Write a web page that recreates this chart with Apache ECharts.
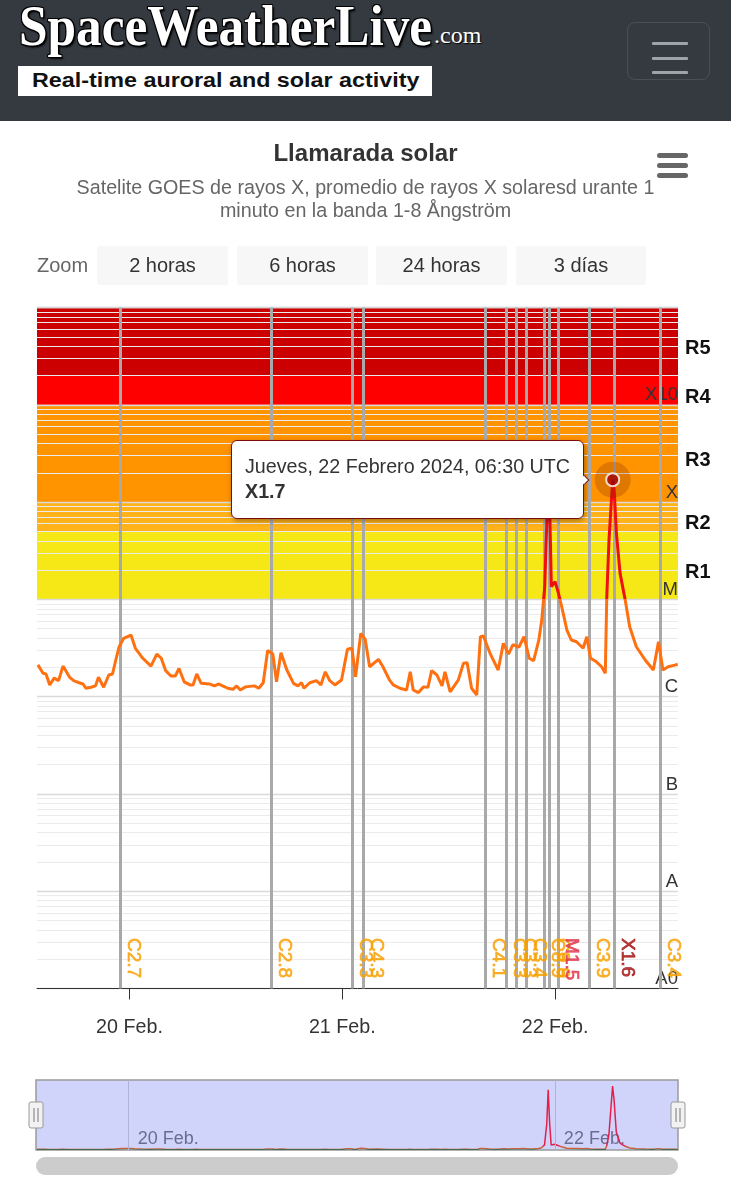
<!DOCTYPE html>
<html>
<head>
<meta charset="utf-8">
<script src="https://cdn.jsdelivr.net/npm/echarts@6/dist/echarts.min.js"></script>
<style>
html,body{margin:0;padding:0;background:#fff;width:731px;height:1200px;overflow:hidden;font-family:"Liberation Sans",Arial,sans-serif;}
#chart{position:absolute;left:0;top:0;width:731px;height:1200px;}
#hdr{position:absolute;left:0;top:0;width:731px;height:121px;background:#343a40;z-index:5;}
#logo{position:absolute;left:19px;top:-6px;font-family:"Liberation Serif","DejaVu Serif",serif;font-weight:bold;font-size:56px;color:#fff;white-space:nowrap;transform-origin:0 0;
 text-shadow:1px 1px 0 #000,-1px 1px 0 #000,1px -1px 0 #000,-1px -1px 0 #000,2px 2px 2px #000;}
#dotcom{position:absolute;left:434px;top:22px;font-family:"Liberation Serif",serif;font-size:24px;color:#fff;text-shadow:1px 1px 1px #000;}
#tag{position:absolute;left:18px;top:66px;width:414px;height:30px;background:#fff;}
#tagtxt{position:absolute;left:14px;top:3px;font-weight:bold;font-size:20px;color:#111;white-space:nowrap;transform-origin:0 0;}
#menu{position:absolute;left:627px;top:22px;width:83px;height:58px;border:1px solid #4b5057;border-radius:8px;box-sizing:border-box;}
#menu i{position:absolute;left:24px;width:36px;height:3px;background:#a0a3a7;border-radius:1px;}
</style>
</head>
<body>
<div id="chart"></div>
<div id="hdr">
  <div id="logo">SpaceWeatherLive</div>
  <div id="dotcom">.com</div>
  <div id="tag"><div id="tagtxt">Real-time auroral and solar activity</div></div>
  <div id="menu"><i style="top:19px"></i><i style="top:34px"></i><i style="top:48px"></i></div>
</div>
<script>
// ---------------- DATA ----------------
// GOES 1-8 Å flux (W/m²), times in UTC (February 2024, "DDTHH:mm")
const times = [
 '19T13:40','19T14:15','19T14:35','19T15:00','19T15:30','19T16:00','19T16:30','19T17:15','19T17:45','19T18:20',
 '19T18:45','19T19:05','19T19:40','19T20:10','19T20:30','19T21:05','19T21:40','19T22:05','19T22:30','19T22:50',
 '19T23:20','20T00:10','20T00:40','20T01:30','20T02:25','20T03:05','20T03:35','20T04:05','20T04:40','20T05:10',
 '20T05:35','20T06:10','20T06:50','20T07:10','20T07:35','20T08:05','20T09:00','20T09:35','20T10:05','20T10:30',
 '20T11:05','20T11:40','20T12:05','20T12:30','20T13:05','20T14:05','20T14:35','20T15:05','20T15:35','20T16:10',
 '20T16:35','20T17:05','20T17:45','20T18:30','20T19:00','20T19:25','20T19:40','20T20:20','20T21:05','20T21:35',
 '20T22:05','20T22:35','20T23:10','20T23:55','21T00:35','21T01:05','21T01:30','21T02:05','21T02:35','21T03:05',
 '21T04:05','21T04:35','21T05:20','21T05:45','21T06:30','21T07:15','21T07:40','21T08:00','21T08:35','21T09:10',
 '21T09:40','21T10:05','21T10:40','21T11:15','21T11:35','21T12:10','21T13:05','21T13:40','21T14:05','21T14:35',
 '21T15:10','21T15:35','21T15:55','21T16:40','21T17:35','21T18:10','21T18:45','21T19:15','21T19:55','21T20:30',
 '21T21:05','21T21:35','21T22:10','21T22:30','21T22:50','21T23:05','21T23:15','21T23:25','21T23:35','22T00:00',
 '22T00:20','22T00:45','22T01:20','22T01:50','22T02:25','22T03:10','22T03:35','22T04:00','22T04:40','22T05:15',
 '22T05:40','22T05:50','22T06:05','22T06:30','22T06:40','22T06:55','22T07:20','22T07:55','22T08:25','22T09:10',
 '22T10:10','22T11:05','22T11:40','22T12:10','22T12:45','22T13:30','22T13:50'
];
const flux = [
 2.12e-6,1.74e-6,1.71e-6,1.32e-6,1.55e-6,1.46e-6,2.06e-6,1.58e-6,1.45e-6,1.39e-6,
 1.35e-6,1.22e-6,1.25e-6,1.29e-6,1.58e-6,1.25e-6,1.67e-6,1.71e-6,2.48e-6,3.26e-6,
 3.97e-6,4.30e-6,3.14e-6,2.48e-6,2.06e-6,2.74e-6,2.48e-6,1.85e-6,1.63e-6,1.63e-6,
 1.95e-6,1.42e-6,1.32e-6,1.32e-6,1.71e-6,1.37e-6,1.35e-6,1.29e-6,1.35e-6,1.29e-6,
 1.22e-6,1.19e-6,1.29e-6,1.17e-6,1.26e-6,1.29e-6,1.22e-6,1.39e-6,2.98e-6,2.74e-6,
 1.42e-6,2.83e-6,1.88e-6,1.37e-6,1.29e-6,1.39e-6,1.22e-6,1.39e-6,1.46e-6,1.32e-6,
 1.80e-6,1.46e-6,1.32e-6,1.48e-6,3.07e-6,3.14e-6,1.60e-6,4.47e-6,3.88e-6,2.03e-6,
 2.42e-6,2.03e-6,1.48e-6,1.32e-6,1.22e-6,1.17e-6,1.80e-6,1.17e-6,1.10e-6,1.26e-6,
 1.25e-6,1.85e-6,1.67e-6,1.29e-6,1.80e-6,1.12e-6,1.48e-6,2.20e-6,2.23e-6,1.22e-6,
 1.04e-6,4.13e-6,4.20e-6,2.79e-6,1.88e-6,3.53e-6,2.74e-6,3.43e-6,3.22e-6,4.13e-6,
 2.48e-6,2.34e-6,3.81e-6,6.13e-6,1.35e-5,6.85e-5,1.60e-4,6.85e-5,1.35e-5,1.52e-5,
 1.20e-5,8.4e-6,4.84e-6,3.82e-6,3.67e-6,3.14e-6,4.13e-6,2.48e-6,2.28e-6,2.03e-6,
 1.74e-6,1.06e-5,4.07e-5,1.70e-4,1.33e-4,4.80e-5,1.85e-5,9.8e-6,5.23e-6,3.26e-6,
 2.38e-6,1.88e-6,3.67e-6,1.88e-6,2.03e-6,2.11e-6,2.15e-6
];
// flare markers (time, class label)
const flareTimes  = ['19T22:55','20T16:00','21T01:05','21T02:20','21T16:10','21T18:30','21T19:35','21T20:45','21T22:45','21T23:20','22T00:20','22T03:50','22T06:40','22T11:50'];
const flareLabels = ['C2.7','C2.8','C3.3','C4.3','C4.1','C3.3','C3.3','C3.4','C8.9','C9.9','M1.5','C3.9','X1.6','C3.4'];
// radio blackout scale bands (W/m²)
const bandEdges = [1e-5, 5e-5, 1e-4, 1e-3, 2e-3, 1e-2];
const bandNames = ['R1','R2','R3','R4','R5'];
// axis range and navigator grid days
const rangeStart = '19T13:34', rangeEnd = '22T13:52';
const navDays = ['20T00:00','22T00:00'];
const classLetters = {'-9':'A0','-8':'A','-7':'B','-6':'C','-5':'M','-4':'X','-3':'X10'};
const zoomButtons = ['2 horas','6 horas','24 horas','3 días'];
const dayNames = ['Domingo','Lunes','Martes','Miércoles','Jueves','Viernes','Sábado'];
const monthNames = ['Enero','Febrero','Marzo','Abril','Mayo','Junio','Julio','Agosto','Septiembre','Octubre','Noviembre','Diciembre'];

// ---------------- HELPERS ----------------
function toMs(s){ return Date.parse('2024-02-' + s + 'Z'); }
function cls(v){
  const L = [['X',1e-4],['M',1e-5],['C',1e-6],['B',1e-7],['A',1e-8]];
  for (const [l,b] of L) if (v >= b*0.9999) return l + (v/b).toFixed(1);
  return 'A' + (v/1e-8).toFixed(1);
}
function pad(n){ return (n<10?'0':'')+n; }

const FONT = '"Liberation Sans", Arial, sans-serif';
const points = times.map((t,i)=>[toMs(t), flux[i]]);
let peakIdx = 0; flux.forEach((v,i)=>{ if (v > flux[peakIdx]) peakIdx = i; });
const xMin = toMs(rangeStart), xMax = toMs(rangeEnd);
const DAY = 86400000;
const navDayMs = navDays.map(toMs);

const bandColors = ['#f5e816','#ffb21a','#ff9300','#ff0000','#cc0000'];
const bandAreas = bandNames.map((n,i)=>[
  {yAxis: bandEdges[i], name: n, itemStyle:{color: bandColors[i]}},
  {yAxis: bandEdges[i+1]}
]);
const minorSteps = [2,3,4,5,6,7,8,9];
const minorLines = [];
for (let e=-9; e<-2; e++) minorSteps.forEach(m=>{
  const v = m*Math.pow(10,e);
  minorLines.push([{coord:[xMin, v]}, {coord:[xMax, v]}]);
});

function flareColor(l){ return l[0]==='X' ? '#a50f0f' : (l[0]==='M' ? '#e0324c' : '#f7a000'); }
const LABEL_FLUX = 3.3e-9; // label anchor height (near bottom of plot)
const flareLabelData = flareTimes.map((t,i)=>({
  value:[toMs(t), LABEL_FLUX],
  label:{color: flareColor(flareLabels[i]), textBorderColor: flareColor(flareLabels[i]), formatter: flareLabels[i]}
}));

// ---------------- CHART ----------------
const chart = echarts.init(document.getElementById('chart'));
const graphic = [];
graphic.push({type:'text', x:37, y:266, z:10, style:{text:'Zoom', font:'20px '+FONT, fill:'#666', verticalAlign:'middle'}});
const btnX = [97,237,376,516], btnW = [131,131,131,130];
zoomButtons.forEach((b,i)=>{
  graphic.push({type:'rect', z:9, shape:{x:btnX[i], y:246, width:btnW[i], height:39, r:2}, style:{fill:'#f7f7f7'}});
  graphic.push({type:'text', z:10, x:btnX[i]+btnW[i]/2, y:266, style:{text:b, font:'20px '+FONT, fill:'#333', align:'center', verticalAlign:'middle'}});
});
[153,163,173].forEach(y=>graphic.push({type:'rect', z:10, shape:{x:657,y:y,width:31,height:5,r:2.5}, style:{fill:'#666'}}));
// navigator handles and scrollbar
[36,678].forEach(x=>{
  graphic.push({type:'rect', z:20, shape:{x:x-7,y:1102,width:14,height:26,r:2}, style:{fill:'#f2f2f2', stroke:'#999', lineWidth:1}});
  graphic.push({type:'line', z:21, shape:{x1:x-2,y1:1108,x2:x-2,y2:1122}, style:{stroke:'#777', lineWidth:1}});
  graphic.push({type:'line', z:21, shape:{x1:x+2,y1:1108,x2:x+2,y2:1122}, style:{stroke:'#777', lineWidth:1}});
});
graphic.push({type:'rect', z:10, shape:{x:36,y:1157,width:642,height:18,r:9}, style:{fill:'#cccccc'}});

const option = {
  animation:false,
  useUTC:true,
  textStyle:{fontFamily:FONT},
  title:{
    text:'Llamarada solar',
    subtext:'Satelite GOES de rayos X, promedio de rayos X solaresd urante 1\nminuto en la banda 1-8 Ångström',
    left:'center', top:137, itemGap:11,
    textStyle:{fontSize:24, fontWeight:'bold', color:'#333', fontFamily:FONT},
    subtextStyle:{fontSize:19.7, color:'#666', lineHeight:23, fontFamily:FONT}
  },
  graphic: graphic,
  grid:[
    {left:37, top:307.5, width:641, height:681},
    {left:36, top:1080, width:642, height:70, show:true, backgroundColor:'#d0d4fb', borderColor:'#9a9a9a', borderWidth:1.5}
  ],
  xAxis:[
    {type:'time', gridIndex:0, min:xMin, max:xMax, minInterval:DAY, maxInterval:DAY, z:1,
     axisLine:{lineStyle:{color:'#333', width:1}},
     axisTick:{length:11, lineStyle:{color:'#333'}},
     axisLabel:{fontSize:19.7, color:'#333', margin:29, hideOverlap:false,
       formatter:v=>new Date(v).getUTCDate()+' Feb.'},
     splitLine:{show:false}},
    {type:'time', gridIndex:1, min:xMin, max:xMax, minInterval:DAY, maxInterval:DAY,
     axisLine:{show:false}, axisTick:{show:false},
     axisLabel:{inside:true, fontSize:18, color:'#6a6d90', align:'left', margin:2, padding:[0,0,0,9], hideOverlap:false,
       formatter:v=>{ const ms = +v; return navDayMs.some(d=>Math.abs(d-ms)<60000) ? new Date(ms).getUTCDate()+' Feb.' : ''; }},
     splitLine:{show:false}}
  ],
  yAxis:[
    {type:'log', logBase:10, gridIndex:0, min:1e-9, max:1e-2, position:'right', z:1,
     axisLine:{show:false}, axisTick:{show:false},
     axisLabel:{inside:true, margin:0, fontSize:18.5, color:'#333', verticalAlign:'bottom',
       formatter:v=>classLetters[String(Math.round(Math.log10(v)))]||''},
     splitLine:{show:true, lineStyle:{color:'#d9d9d9', width:1.3}}},
    {type:'value', gridIndex:1, min:0, max:1.86e-4, show:false, splitLine:{show:false}}
  ],
  visualMap:[
    {type:'piecewise', show:false, seriesIndex:0, dimension:1,
     pieces:[{gte:1e-12, lt:1e-5, color:'#ff7010'},{gte:1e-5, lte:1, color:'#ee0f0f'}]},
    {type:'piecewise', show:false, seriesIndex:4, dimension:1,
     pieces:[{gte:0, lt:3.9e-6, color:'#46684f'},{gte:3.9e-6, lt:1e-5, color:'#c8603c'},{gte:1e-5, lte:1, color:'#e3204a'}]}
  ],
  tooltip:{
    trigger:'item', showDelay:0, hideDelay:0, transitionDuration:0, alwaysShowContent:true,
    position:'left', confine:false,
    backgroundColor:'#ffffff', borderColor:'#7c0c0c', borderWidth:1.5, padding:[13,13,14,13],
    textStyle:{fontSize:19.7, color:'#333', fontFamily:FONT},
    extraCssText:'border-radius:6px;box-shadow:1px 2px 5px rgba(0,0,0,0.35);',
    formatter:p=>{
      const d = new Date(p.value[0]);
      const s = dayNames[d.getUTCDay()]+', '+d.getUTCDate()+' '+monthNames[d.getUTCMonth()]+' '+d.getUTCFullYear()+', '+pad(d.getUTCHours())+':'+pad(d.getUTCMinutes())+' UTC';
      return '<div style="line-height:25px">'+s+'<br><b>'+cls(p.value[1])+'</b></div>';
    }
  },
  series:[
    {type:'line', name:'flux', xAxisIndex:0, yAxisIndex:0, data:points, showSymbol:false, z:3,
     lineStyle:{width:3}, silent:true, tooltip:{show:false},
     markArea:{silent:true, z:0.5, data:bandAreas,
       label:{show:true, position:'right', distance:7, offset:[0,7], fontSize:20, fontWeight:'bold', color:'#111', fontFamily:FONT}}},
    {type:'scatter', name:'flares', xAxisIndex:0, yAxisIndex:0, data:flareLabelData, z:4, silent:true,
     symbolSize:1, itemStyle:{color:'rgba(0,0,0,0)'}, tooltip:{show:false},
     label:{show:true, position:'inside', rotate:-90, align:'left', verticalAlign:'middle', offset:[0,-13], fontSize:19, fontFamily:FONT, textBorderWidth:0.7},
     markLine:{silent:true, z:2, symbol:'none', label:{show:false},
       lineStyle:{color:'#a9a9a9', width:3, type:'solid'},
       data:flareTimes.map(t=>({xAxis:toMs(t)}))}},
    {type:'scatter', name:'halo', xAxisIndex:0, yAxisIndex:0, z:5, data:[points[peakIdx]],
     symbolSize:36, itemStyle:{color:'rgba(125,35,0,0.3)'}, emphasis:{disabled:true}},
    {type:'scatter', name:'point', xAxisIndex:0, yAxisIndex:0, z:6, data:[points[peakIdx]], silent:true,
     tooltip:{show:false}, symbolSize:13, itemStyle:{color:'#a00000', borderColor:'#fff', borderWidth:2}},
    {type:'line', name:'nav', xAxisIndex:1, yAxisIndex:1, data:points, showSymbol:false, silent:true,
     tooltip:{show:false}, lineStyle:{width:1.5},
     markLine:{silent:true, symbol:'none', label:{show:false}, lineStyle:{color:'#aeb3d6', width:1, type:'solid'},
       data:navDayMs.map(d=>({xAxis:d}))}},
    {type:'line', name:'minorGrid', xAxisIndex:0, yAxisIndex:0, data:[], silent:true, tooltip:{show:false},
     markLine:{silent:true, z:1, symbol:'none', label:{show:false}, animation:false,
       lineStyle:{color:'#ebebeb', width:1, type:'solid'}, data:minorLines}}
  ]
};

// fit header texts
function fit(id, w){ const el=document.getElementById(id); const r=w/el.offsetWidth; el.style.transform='scaleX('+r+')'; }
fit('logo', 413); fit('tagtxt', 387);

chart.setOption(option);
chart.dispatchAction({type:'showTip', seriesIndex:2, dataIndex:0});
</script>
</body>
</html>
